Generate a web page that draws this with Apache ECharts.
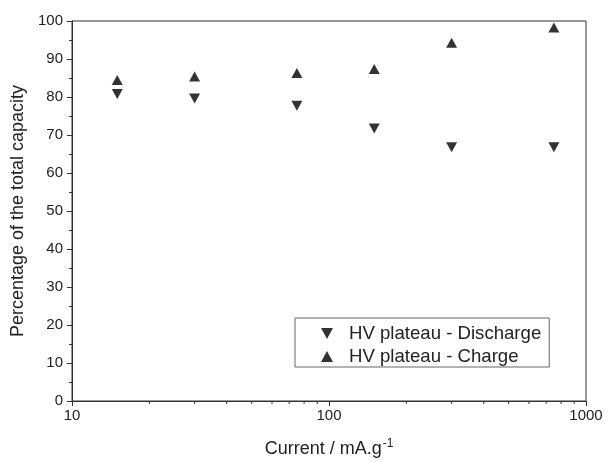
<!DOCTYPE html>
<html>
<head>
<meta charset="utf-8">
<script src="https://cdn.jsdelivr.net/npm/echarts@6/dist/echarts.min.js"></script>
<style>
  html, body { margin: 0; padding: 0; background: #fff; }
  #chart { width: 609px; height: 462px; }
</style>
</head>
<body>
<div id="chart"></div>
<script>
const currents = [15, 30, 75, 150, 300, 750];
const discharge = [80.8, 79.6, 77.7, 71.7, 66.8, 66.8];
const charge = [84.5, 85.4, 86.3, 87.4, 94.3, 98.3];
const minorX = [20, 30, 40, 50, 60, 70, 80, 90, 200, 300, 400, 500, 600, 700, 800, 900];

const font = 'Liberation Sans, Arial, sans-serif';
const ink = '#222';
const downTri = 'path://M0,0 L10,0 L5,9 Z';
const upTri = 'path://M5,0 L10,9 L0,9 Z';

const chart = echarts.init(document.getElementById('chart'));

chart.setOption({
  backgroundColor: '#fff',
  animation: false,
  textStyle: { fontFamily: font },
  grid: {
    left: 72, right: 23, top: 21, bottom: 61,
    outerBoundsMode: 'none',
    containLabel: false,
    show: true, borderColor: '#333', borderWidth: 1
  },
  legend: {
    orient: 'vertical',
    left: 295, top: 318,
    padding: [6, 8, 1, 26],
    itemGap: 4,
    itemWidth: 12, itemHeight: 11,
    borderColor: '#666', borderWidth: 1,
    backgroundColor: '#fff',
    textStyle: { fontFamily: font, fontSize: 18.6, color: ink, padding: [0, 0, 0, 11] },
    data: [
      { name: 'HV plateau - Discharge', icon: downTri },
      { name: 'HV plateau - Charge', icon: upTri }
    ]
  },
  xAxis: {
    type: 'log',
    logBase: 10,
    min: 10, max: 1000,
    name: '{a|Current / mA.g}{s|-1}',
    nameLocation: 'middle',
    nameGap: 37,
    nameTextStyle: {
      rich: {
        a: { fontFamily: font, fontSize: 18, color: ink },
        s: { fontFamily: font, fontSize: 12, color: ink, padding: [0, 0, 10, 1] }
      }
    },
    axisLine: { lineStyle: { color: '#333', width: 1 } },
    axisTick: { show: true, inside: false, length: 5, lineStyle: { color: '#333' } },
    axisLabel: {
      fontSize: 15, color: ink, margin: 7, fontFamily: font,
      formatter: v => String(Math.round(v))
    },
    splitLine: { show: false }
  },
  yAxis: {
    type: 'value',
    min: 0, max: 100, interval: 10,
    name: 'Percentage of the total capacity',
    nameLocation: 'middle',
    nameGap: 35,
    nameTextStyle: { fontFamily: font, fontSize: 18, color: ink },
    axisLine: { show: true, lineStyle: { color: '#333', width: 1 } },
    axisTick: { show: true, inside: false, length: 5, lineStyle: { color: '#333' } },
    minorTick: { show: true, splitNumber: 2, length: 3, lineStyle: { color: '#333' } },
    axisLabel: { fontSize: 15, color: ink, margin: 9, fontFamily: font },
    splitLine: { show: false }
  },
  series: [
    {
      name: 'HV plateau - Discharge',
      type: 'scatter',
      symbol: downTri,
      symbolSize: [11, 10],
      itemStyle: { color: '#000' },
      data: currents.map((c, i) => [c, discharge[i]])
    },
    {
      name: 'HV plateau - Charge',
      type: 'scatter',
      symbol: upTri,
      symbolSize: [11, 10],
      itemStyle: { color: '#000' },
      data: currents.map((c, i) => [c, charge[i]])
    },
    {
      // minor ticks of the log axis
      type: 'custom',
      silent: true,
      clip: false,
      data: minorX.map(v => [v, 0]),
      renderItem: (params, api) => {
        const p = api.coord([api.value(0), 0]);
        return {
          type: 'line',
          shape: { x1: p[0], y1: p[1], x2: p[0], y2: p[1] + 3 },
          style: { stroke: '#333', lineWidth: 1 }
        };
      }
    }
  ]
});
</script>
</body>
</html>
